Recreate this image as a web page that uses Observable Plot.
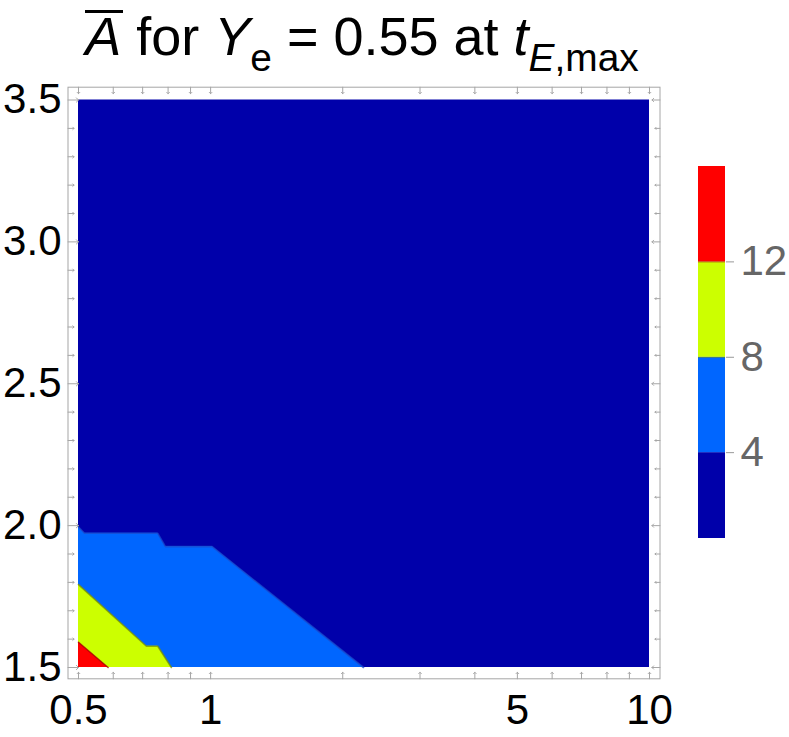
<!DOCTYPE html>
<html>
<head>
<meta charset="utf-8">
<script src="https://cdn.jsdelivr.net/npm/d3@7"></script>
<script src="https://cdn.jsdelivr.net/npm/@observablehq/plot@0.6"></script>
<style>
  html, body { margin: 0; padding: 0; background: white; overflow: hidden; }
  #wrap { position: relative; width: 789px; height: 737px; font-family: "Liberation Sans", Arial, sans-serif; }
  #main { position: absolute; left: 0; top: 0; }
  #legend { position: absolute; left: 680px; top: 150px; }
  #title { position: absolute; left: 0; top: 6px; width: 724px; text-align: center;
           font-size: 54px; line-height: 60px; white-space: nowrap; color: #000; }
  #title .ov { font-style: italic; display: inline-block; position: relative; }
  #title .ov::before { content: ""; position: absolute; left: 0; top: 4px; width: 38px; height: 3px; background: #000; }
  #title .sb { font-size: 0.72em; vertical-align: -16px; }
  svg { overflow: visible; }
</style>
</head>
<body>
<div id="wrap">
  <div id="main"></div>
  <div id="legend"></div>
  <div id="title"><span class="ov">A</span> for <i>Y</i><span class="sb">e</span> = 0.55 at <i>t</i><span class="sb"><i>E</i>,max</span></div>
</div>
<script>
// ---- data ----
const xDomain = [0.5, 10];
const yDomain = [1.5, 3.5];
const xTickLabels = [0.5, 1, 5, 10];
const xMinorTicks = [0.6, 0.7, 0.8, 0.9, 2, 3, 4, 6, 7, 8, 9];
const yTickLabels = [1.5, 2.0, 2.5, 3.0, 3.5];
const yMinorTicks = [1.6, 1.7, 1.8, 1.9, 2.1, 2.2, 2.3, 2.4, 2.6, 2.7, 2.8, 2.9, 3.1, 3.2, 3.3, 3.4];
const contourLevels = [4, 8, 12];
const colorRange = [0.4, 16];
const bandColors = ["#0000aa", "#0066ff", "#ccff00", "#ff0000"];
const lineColors = ["#1a4ccc", "#7a9200", "#a00000"];
// contour boundaries (x, y)
const contour4X = [0.5, 0.516, 0.758, 0.789, 1.008, 2.23];
const contour4Y = [1.995, 1.973, 1.973, 1.926, 1.926, 1.5];
const contour8X = [0.5, 0.714, 0.758, 0.814];
const contour8Y = [1.792, 1.575, 1.575, 1.5];
const contour12X = [0.5, 0.584];
const contour12Y = [1.589, 1.5];

const toPts = (xs, ys) => xs.map((x, i) => ({x, y: ys[i]}));
const contours = [
  {level: contourLevels[0], pts: toPts(contour4X, contour4Y), fill: bandColors[1], stroke: lineColors[0]},
  {level: contourLevels[1], pts: toPts(contour8X, contour8Y), fill: bandColors[2], stroke: lineColors[1]},
  {level: contourLevels[2], pts: toPts(contour12X, contour12Y), fill: bandColors[3], stroke: lineColors[2]}
];
const extent = [{x1: xDomain[0], x2: xDomain[1], y1: yDomain[0], y2: yDomain[1]}];
const xAllTicks = [...xTickLabels, ...xMinorTicks];

const gray = "#a6a6a6";
const fontFamily = "Liberation Sans, Arial, sans-serif";

const marks = [
  Plot.rect(extent, {x1: "x1", x2: "x2", y1: "y1", y2: "y2", fill: bandColors[0]}),
];
for (const c of contours) {
  marks.push(Plot.areaY(c.pts, {x: "x", y1: yDomain[0], y2: "y", fill: c.fill}));
  marks.push(Plot.line(c.pts, {x: "x", y: "y", stroke: c.stroke, strokeWidth: 1.6, strokeOpacity: 0.75}));
}
const tick = (data, chan, frameAnchor, rotate, length) =>
  Plot.vector(data, {[chan]: d => d, frameAnchor, rotate, length, anchor: "start", stroke: gray, strokeWidth: 1});
marks.push(
  Plot.frame({stroke: gray}),
  // inward ticks
  tick(xAllTicks, "x", "bottom", 0, 6.5),
  tick(xAllTicks, "x", "top", 180, 6.5),
  tick(yTickLabels, "y", "left", 90, 10.5),
  tick(yMinorTicks, "y", "left", 90, 6),
  tick(yTickLabels, "y", "right", 270, 8),
  tick(yMinorTicks, "y", "right", 270, 5),
  // labels
  Plot.axisX({anchor: "bottom", ticks: xTickLabels, tickSize: 0, tickPadding: 15, fontSize: 42, fill: "#000",
              tickFormat: d => String(d), label: null}),
  Plot.axisY({anchor: "left", ticks: yTickLabels, tickSize: 0, tickPadding: 6.5, fontSize: 42, fill: "#000",
              tickFormat: d => d.toFixed(1), label: null})
);

const main = Plot.plot({
  width: 789,
  height: 737,
  marginLeft: 67.5,
  marginRight: 129.5,
  marginTop: 86.7,
  marginBottom: 58.7,
  style: {fontFamily, background: "transparent"},
  x: {type: "log", domain: xDomain, insetLeft: 10.5, insetRight: 10.5, axis: null},
  y: {domain: yDomain, insetTop: 12.8, insetBottom: 11.3, axis: null},
  marks
});
document.getElementById("main").append(main);

// ---- legend (colour bar) ----
const lows = [colorRange[0], ...contourLevels];
const highs = [...contourLevels, colorRange[1]];
const bands = bandColors.map((c, i) => ({lo: lows[i], hi: highs[i], color: c}));

const legend = Plot.plot({
  width: 109,
  height: 400,
  marginLeft: 18,
  marginRight: 64,
  marginTop: 16,
  marginBottom: 12,
  style: {fontFamily, background: "transparent"},
  x: {domain: [0, 1], axis: null},
  y: {domain: colorRange, axis: null},
  color: {type: "identity"},
  marks: [
    Plot.rect(bands, {x1: 0, x2: 1, y1: "lo", y2: "hi", fill: "color"}),
    Plot.ruleY(contourLevels.slice(1), {x1: 0, x2: 1, stroke: (d, i) => lineColors[i + 1], strokeOpacity: 0.6}),
    Plot.axisY({anchor: "right", ticks: contourLevels, tickSize: 8, tickPadding: 7, fontSize: 42,
                fill: "#666", stroke: "#999", tickFormat: d => String(d), label: null})
  ]
});
document.getElementById("legend").append(legend);
</script>
</body>
</html>
